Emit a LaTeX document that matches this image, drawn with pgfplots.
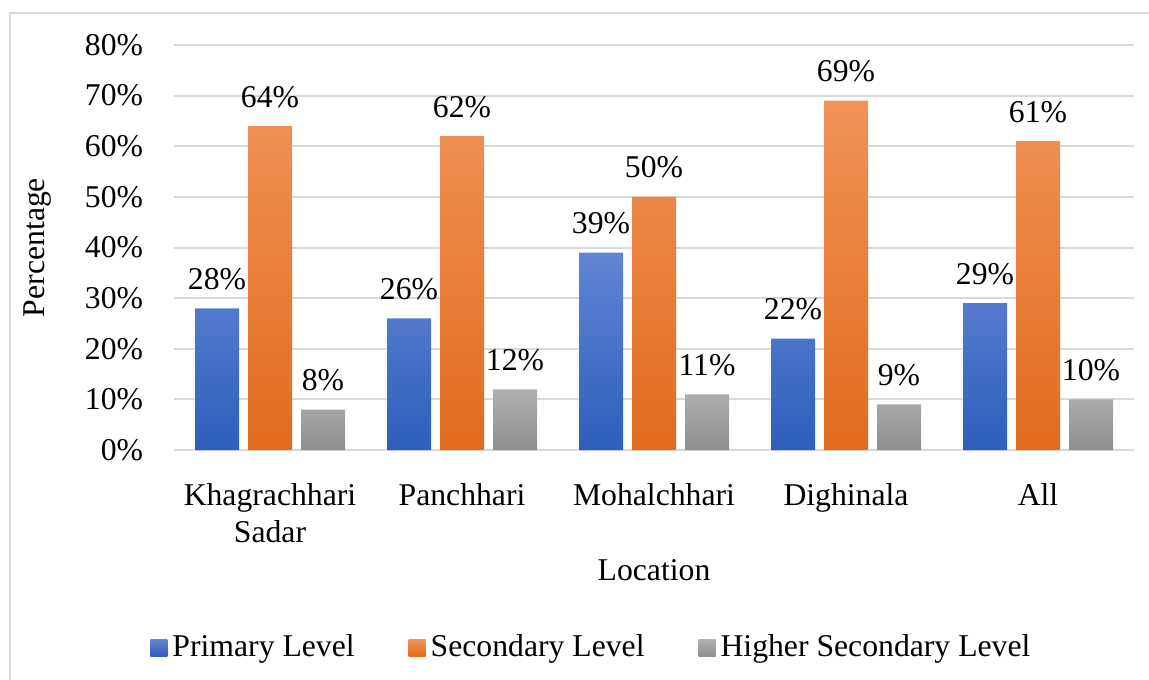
\documentclass[border=0pt]{standalone}
\usepackage{fontspec}
\setmainfont{Liberation Serif}
\usepackage{pgfplots}
\pgfplotsset{compat=1.18}
\definecolor{gridc}{HTML}{D9D9D9}
\definecolor{bluetop}{HTML}{6285D2}
\definecolor{bluebot}{HTML}{2E5DBD}
\definecolor{orgtop}{HTML}{F19259}
\definecolor{orgbot}{HTML}{E26B1C}
\definecolor{graytop}{HTML}{B0B0B0}
\definecolor{graybot}{HTML}{8E8E8E}
\begin{document}
\fontsize{15.85pt}{18.3pt}\selectfont
\begin{tikzpicture}
\path[use as bounding box] (-87pt,-114.5pt) rectangle (487.5pt,225pt);
\draw[gridc, line width=1pt] (-82pt,-130pt) -- (-82pt,218.25pt) -- (500pt,218.25pt);
\begin{axis}[
  at={(0pt,0pt)}, anchor=south west,
  scale only axis, width=480pt, height=202.5pt,
  xmin=-0.5, xmax=4.5, ymin=0, ymax=80,
  ytick={0,10,...,80},
  xtick={0,1,2,3,4},
  xticklabels={{Khagrachhari\\Sadar},Panchhari,Mohalchhari,Dighinala,All},
  xticklabel style={align=center, yshift=-7pt},
  yticklabel={\pgfmathprintnumber{\tick}\%},
  yticklabel style={xshift=-10pt},
  /pgf/number format/assume math mode=true,
  tick style={draw=none},
  axis line style={draw=none},
  ymajorgrids,
  major grid style={gridc, line width=1pt},
  ybar=4.5pt, bar width=22pt,
  nodes near coords={\pgfmathprintnumber{\pgfplotspointmeta}\%},
  every node near coord/.append style={anchor=base, yshift=9.5pt, text=black},
  legend columns=3,
  legend style={at={(0.4364,-0.489)}, anchor=center, draw=none, fill=none,
    /tikz/every even column/.append style={column sep=24.5pt},
    nodes={inner xsep=2.5pt}},
  legend image code/.code={\path[#1,draw=none] (0pt,-4.25pt) rectangle (8.5pt,4.25pt);},
]
\addplot[draw=none, top color=bluetop, bottom color=bluebot] coordinates {(0,28) (1,26) (2,39) (3,22) (4,29)};
\addplot[draw=none, top color=orgtop, bottom color=orgbot] coordinates {(0,64) (1,62) (2,50) (3,69) (4,61)};
\addplot[draw=none, top color=graytop, bottom color=graybot] coordinates {(0,8) (1,12) (2,11) (3,9) (4,10)};
\legend{Primary Level, Secondary Level, Higher Secondary Level}
\end{axis}
\node at (240pt,-60pt) {Location};
\node[rotate=90] at (-68pt,101.25pt) {Percentage};
\end{tikzpicture}
\end{document}
